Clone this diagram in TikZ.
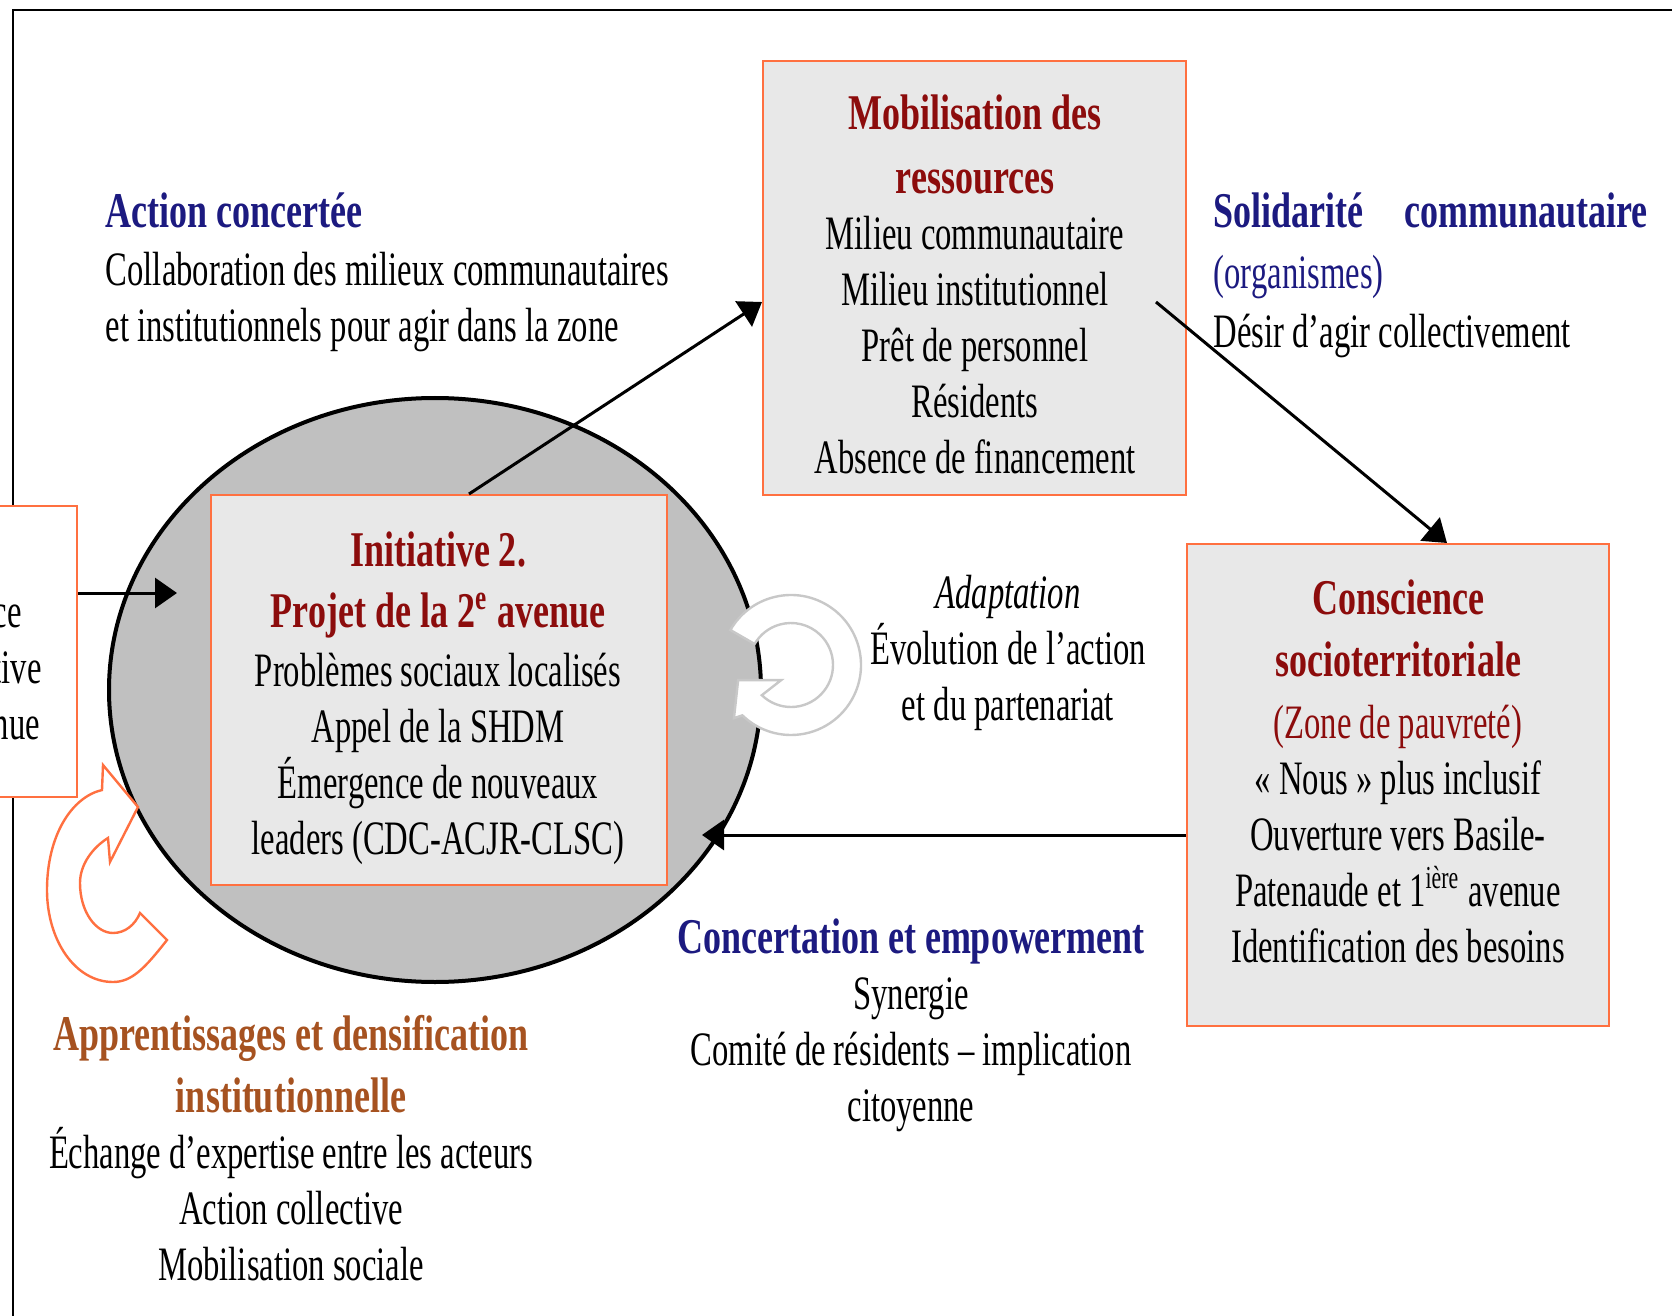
\documentclass[tikz,border=0pt]{standalone}
\usepackage{fontspec}
\setmainfont{Liberation Serif}[FakeStretch=0.68]
\newfontfamily\hdfont{Liberation Serif}[FakeStretch=0.72]
\usetikzlibrary{arrows.meta,shapes.geometric}

\definecolor{titleblue}{RGB}{28,26,128}
\definecolor{titlered}{RGB}{140,12,12}
\definecolor{titlebrown}{RGB}{166,82,32}
\definecolor{boxedge}{RGB}{255,112,64}
\definecolor{boxfill}{RGB}{232,232,232}
\definecolor{ellfill}{RGB}{192,192,192}
\definecolor{ringgray}{RGB}{200,200,200}

\newcommand\hd[2]{{\color{#1}\hdfont\bfseries\fontsize{12.5}{14}\selectfont #2}}

\tikzset{
  box/.style={draw=boxedge, line width=0.5pt, fill=boxfill, inner sep=0pt},
  txt/.style={inner sep=0pt, align=center},
  arr/.style={line width=0.75pt, -{Triangle[length=5.5pt,width=7.5pt]}},
}

\begin{document}
\begin{tikzpicture}[x=0.25pt, y=-0.25pt, font=\fontsize{12}{14}\selectfont]
\useasboundingbox (0,0) rectangle (1672,1316);
\clip (0,0) rectangle (1672,1316);

% frame
\draw[line width=0.6pt] (13,1316) -- (13,10) -- (1672,10);

% the central ellipse
\node[ellipse, draw, line width=1pt, fill=ellfill, minimum width=163pt, minimum height=146pt] (ell) at (435,690) {};

% boxes
\node[box, fill=white, minimum width=75pt, minimum height=72.75pt] (lb) at (-73,651) {};
\node[box, minimum width=114pt, minimum height=97.5pt] (ini) at (439,690) {};
\node[box, minimum width=105.75pt, minimum height=108.5pt] (mob) at (974.5,278) {};
\node[box, minimum width=105.5pt, minimum height=120.5pt] (con) at (1398,785) {};

% texts of the boxes
\node[txt, anchor=west, align=left] (lbt) at (-8,672) {ce\\tive\\nue};

\node[txt] (init) at (438,698)
  {\hd{titlered}{Initiative 2.}\\[1.25pt]
   \hd{titlered}{Projet de la 2\textsuperscript{e} avenue}\\[0.75pt]
   Problèmes sociaux localisés\\
   Appel de la SHDM\\
   Émergence de nouveaux\\
   leaders (CDC-ACJR-CLSC)};

\node[txt] (mobt) at (975,284)
  {\hd{titlered}{Mobilisation des}\\[2pt]
   \hd{titlered}{ressources}\\
   Milieu communautaire\\
   Milieu institutionnel\\
   Prêt de personnel\\
   Résidents\\
   Absence de financement};

\node[txt] (cont) at (1398,771)
  {\hd{titlered}{Conscience}\\[1.5pt]
   \hd{titlered}{socioterritoriale}\\[1.5pt]
   {\color{titlered}(Zone de pauvreté)}\\
   «~Nous~» plus inclusif\\
   Ouverture vers Basile-\\
   Patenaude et 1\textsuperscript{ière} avenue\\
   Identification des besoins};

% free texts
\node[txt, anchor=west, align=left] (act) at (105,272)
  {\hd{titleblue}{Action concertée}\\[0.5pt]
   Collaboration des milieux communautaires\\
   et institutionnels pour agir dans la zone};

\node[txt, anchor=west, align=left] (sol) at (1213,275)
  {\hd{titleblue}{\makebox[108.5pt]{Solidarité\hfill communautaire}}\\[1.25pt]
   {\color{titleblue}(organismes)}\\[0.75pt]
   Désir d’agir collectivement};

\node[txt] (ada) at (1008,653)
  {\textit{Adaptation}\\
   Évolution de l’action\\
   et du partenariat};

\node[txt] (conc) at (911,1025)
  {\hd{titleblue}{Concertation et empowerment}\\
   Synergie\\
   Comité de résidents – implication\\
   citoyenne};

\node[txt] (app) at (291,1148)
  {\hd{titlebrown}{Apprentissages et densification}\\[1.5pt]
   \hd{titlebrown}{institutionnelle}\\
   Échange d’expertise entre les acteurs\\
   Action collective\\
   Mobilisation sociale};

% connectors
\coordinate (in1) at (177,593);
\coordinate (in3) at (702,835);
\draw[arr] (lb.east |- in1) -- (in1);
\draw[arr] ([xshift=7.5pt]ini.north) -- ([yshift=-6pt]mob.west);
\draw[arr] ([xshift=-7.75pt, yshift=-6pt]mob.east) -- ([xshift=12.25pt]con.north);
\draw[arr] (con.west |- in3) -- (in3);

% curved arrows
\draw[boxedge, line width=0.6pt, fill=white]
  (167,940) .. controls (145,968) and (132,982) .. (113,982)
  .. controls (75,982) and (47,940) .. (47,890)
  .. controls (47,835) and (72,797) .. (102,790)
  -- (103,765) -- (138,807) -- (110,862) -- (108,838)
  .. controls (92,848) and (80,865) .. (80,883)
  .. controls (80,912) and (96,933) .. (113,933)
  .. controls (125,933) and (135,925) .. (140,913) -- cycle;

\draw[ringgray, line width=0.6pt, fill=white, shift={(791,665)}]
  (-150:70) arc[start angle=-150, end angle=134, radius=70]
  -- (137:78) -- (164:55) -- (123:18) -- (134:42)
  arc[start angle=134, end angle=-150, radius=42] -- cycle;
\end{tikzpicture}
\end{document}
